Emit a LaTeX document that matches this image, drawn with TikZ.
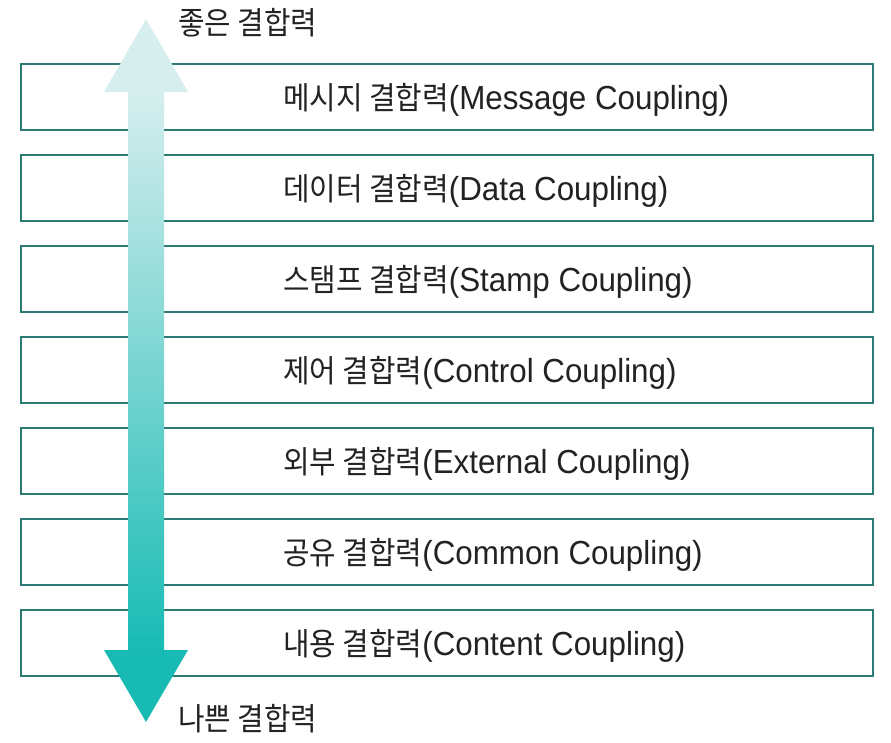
\documentclass[tikz,border=0pt]{standalone}
\usepackage{fontspec}
\setmainfont[FakeStretch=0.94]{Liberation Sans}
\newfontfamily\krfont[FakeStretch=0.92]{Noto Sans CJK KR}
\usepackage{xcolor}
\usepackage{tikz}
\usetikzlibrary{positioning}
\definecolor{BoxTeal}{HTML}{2B7A74}
\definecolor{ArrowLight}{HTML}{D6EEEE}
\definecolor{ArrowTeal}{HTML}{18BBB4}
\definecolor{InkGray}{HTML}{222222}
\newcommand\kr[1]{{\krfont\fontsize{23.5}{27}\selectfont #1}}

\begin{document}
\begin{tikzpicture}[x=0.75pt,y=-0.75pt,node distance=18.75pt,
  levelbox/.style={draw=BoxTeal,line width=1.9pt,fill=white,outer sep=0pt,
      minimum width=639pt,minimum height=49.5pt,inner sep=0pt},
  leveltext/.style={anchor=west,inner sep=0pt,yshift=-2.5pt,
      font=\fontsize{25}{28}\selectfont,text=InkGray}]
\useasboundingbox (0,0) rectangle (891,742);

% coupling levels, best on top
\node[levelbox,anchor=north west] (m1) at (21,64) {};
\node[levelbox,below=of m1] (m2) {};
\node[levelbox,below=of m2] (m3) {};
\node[levelbox,below=of m3] (m4) {};
\node[levelbox,below=of m4] (m5) {};
\node[levelbox,below=of m5] (m6) {};
\node[levelbox,below=of m6] (m7) {};

\node[leveltext,right=196.5pt of m1.west] (t1) {\kr{메시지 결합력}(Message Coupling)};
\node[leveltext,right=196.5pt of m2.west] (t2) {\kr{데이터 결합력}(Data Coupling)};
\node[leveltext,right=196.5pt of m3.west] (t3) {\kr{스탬프 결합력}(Stamp Coupling)};
\node[leveltext,right=196.5pt of m4.west] (t4) {\kr{제어 결합력}(Control Coupling)};
\node[leveltext,right=196.5pt of m5.west] (t5) {\kr{외부 결합력}(External Coupling)};
\node[leveltext,right=196.5pt of m6.west] (t6) {\kr{공유 결합력}(Common Coupling)};
\node[leveltext,right=196.5pt of m7.west] (t7) {\kr{내용 결합력}(Content Coupling)};

% the big two-headed arrow
\coordinate (good) at (146,19);
\coordinate (bad) at (146,722);
\fill[ArrowLight] (good) -- (188,92) -- (104,92) -- cycle;
\shade[top color=ArrowLight,bottom color=ArrowTeal] (128,91) rectangle (164,651);
\fill[ArrowTeal] (bad) -- (104,650) -- (188,650) -- cycle;

\node[leveltext] (goodlbl) at (178,19) {\kr{좋은 결합력}};
\node[leveltext] (badlbl) at (178,715) {\kr{나쁜 결합력}};
\end{tikzpicture}
\end{document}
